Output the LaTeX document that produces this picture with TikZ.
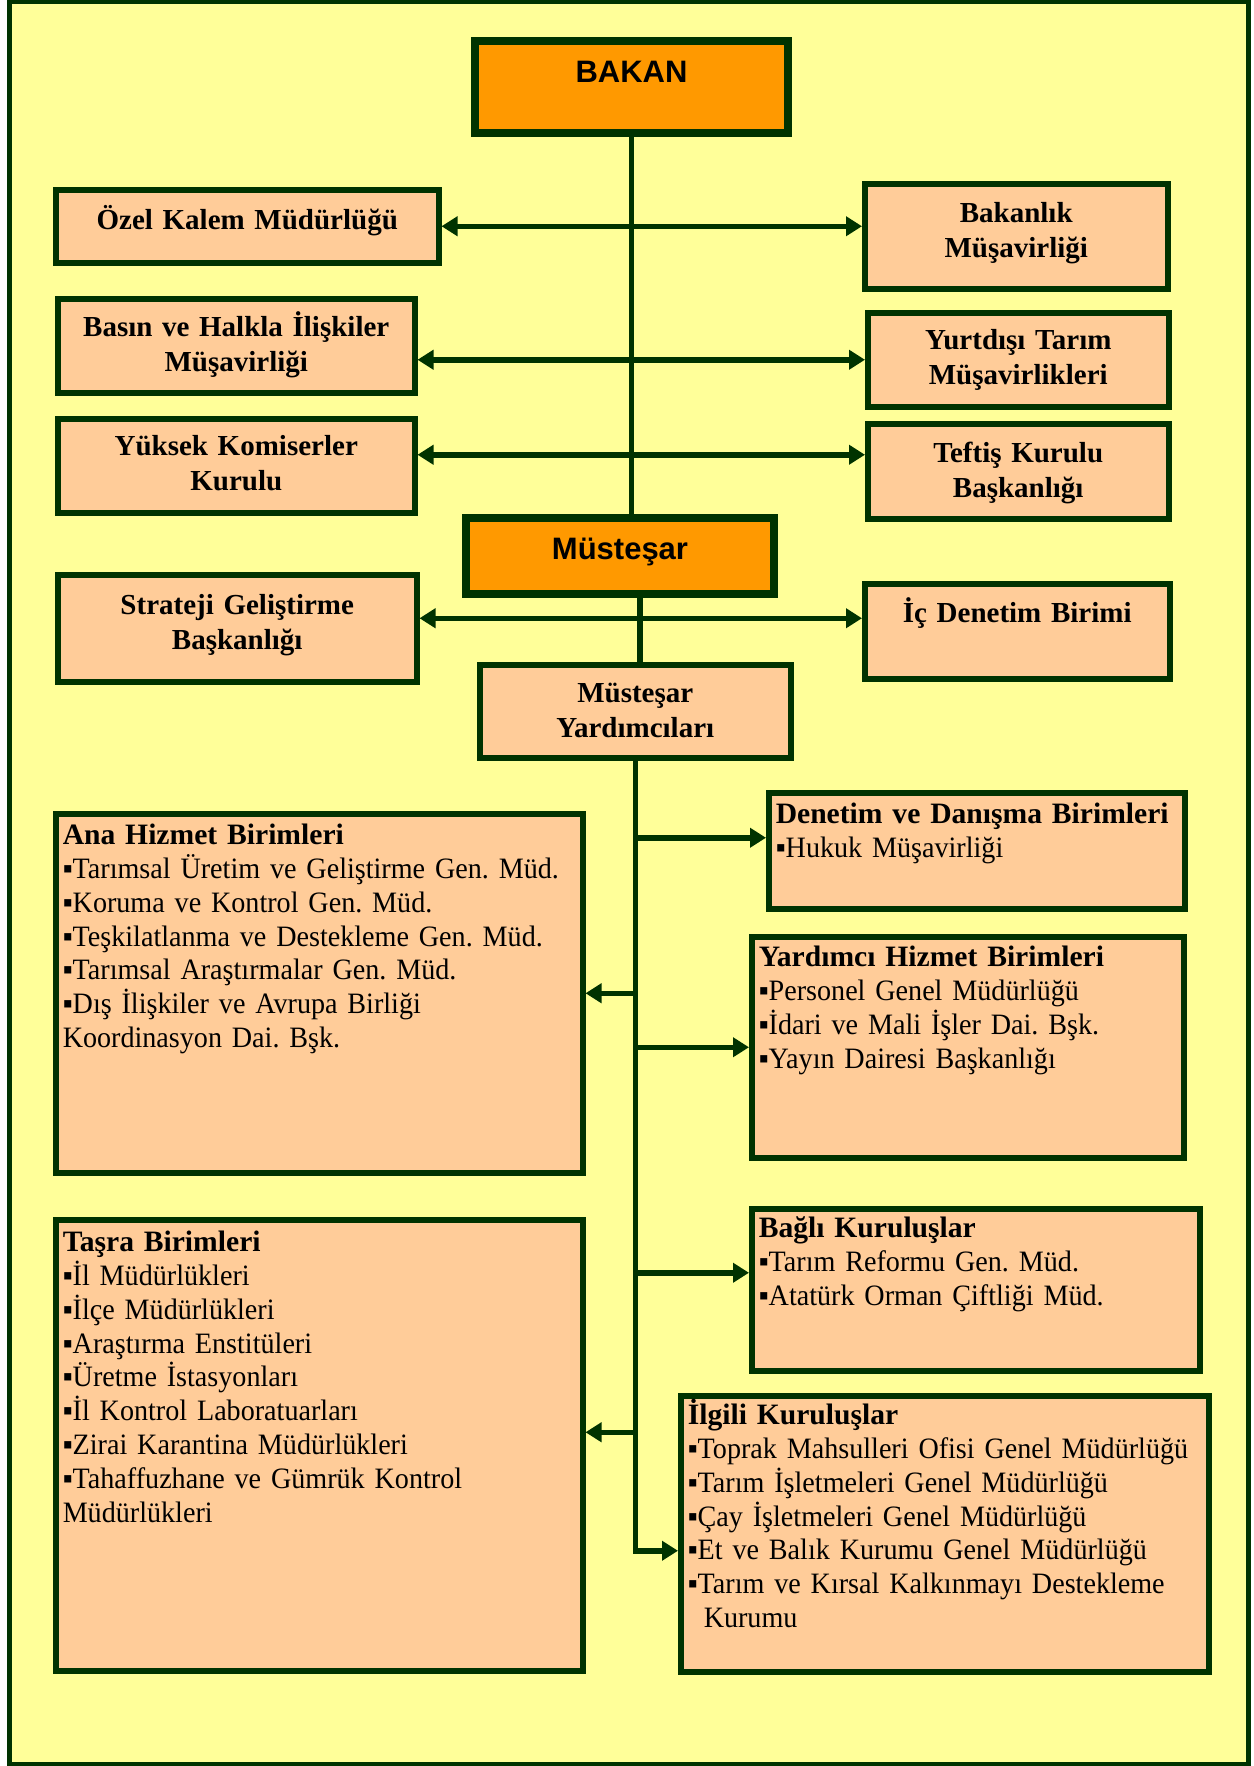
\documentclass[tikz,border=0pt]{standalone}
\usepackage{fontspec}
\setmainfont{Liberation Serif}
\newfontfamily\arialfont{Liberation Sans}
\newfontfamily\listfont{Liberation Serif}[FakeStretch=0.95]
\usetikzlibrary{arrows.meta}
\frenchspacing

\definecolor{sari}{HTML}{FFFF99}
\definecolor{seftali}{HTML}{FFCC99}
\definecolor{turuncu}{HTML}{FF9900}
\definecolor{koyuyesil}{HTML}{003300}

\newcommand{\baslik}[1]{{\rmfamily\bfseries #1}}

\begin{document}
\begin{tikzpicture}[x=0.5pt, y=-0.5pt,
	birim/.style={draw=koyuyesil, line width=2.75pt, fill=seftali, anchor=north west, inner sep=0pt, align=center, font=\bfseries\fontsize{14.5}{17.5}\selectfont},
	ust/.style={birim, line width=4pt, fill=turuncu, font=\arialfont\bfseries\fontsize{15.5}{18}\selectfont},
	liste/.style={birim, align=left, inner xsep=3.5pt, font=\listfont\fontsize{14.8}{16.9}\selectfont},
	bag/.style={draw=koyuyesil, line width=2.75pt},
	ok/.style={bag, -{Triangle[length=8pt,width=9.5pt]}},
	ciftok/.style={bag, {Triangle[length=8pt,width=9.5pt]}-{Triangle[length=8pt,width=9.5pt]}}
	]
		\useasboundingbox (0,0) rectangle (1253,1766);
		%draw frame
		\draw[line width=2.5pt, draw=koyuyesil, fill=sari] (9,2) rectangle (1248,1764);
		%draw top boxes
		\node[ust, text width=156.5pt, text height=21pt, text depth=25pt] (bakan) at (471,37) {BAKAN};
		\node[birim, text width=191.5pt, text height=20pt, text depth=16.5pt] (ozel) at (53,187) {Özel Kalem Müdürlüğü};
		\node[birim, text width=151.5pt, text height=19.5pt, text depth=33pt] (bakanlik) at (862,181) {Bakanlık\\Müşavirliği};
		\node[birim, text width=178.5pt, text height=19pt, text depth=28pt] (basin) at (55,296) {Basın ve Halkla İlişkiler\\Müşavirliği};
		\node[birim, text width=150.5pt, text height=18.5pt, text depth=28.5pt] (yurtdisi) at (865,310) {Yurtdışı Tarım\\Müşavirlikleri};
		\node[birim, text width=178.5pt, text height=18.5pt, text depth=28.5pt] (yuksek) at (55,416) {Yüksek Komiserler\\Kurulu};
		\node[birim, text width=150.5pt, text height=19.5pt, text depth=28pt] (teftis) at (865,421) {Teftiş Kurulu\\Başkanlığı};
		\node[ust, text width=154pt, text height=20.5pt, text depth=17.5pt] (mustesar) at (462,514) {Müsteşar};
		\node[birim, text width=179.5pt, text height=20pt, text depth=33.5pt] (strateji) at (55,572) {Strateji Geliştirme\\Başkanlığı};
		\node[birim, text width=152.5pt, text height=19.5pt, text depth=28pt] (icdenetim) at (862,581) {İç Denetim Birimi};
		\node[birim, text width=155.5pt, text height=19pt, text depth=27.5pt] (yardimcilar) at (477,662) {Müsteşar\\Yardımcıları};
		%draw unit lists
		\node[liste, text width=201pt, text height=15.5pt, text depth=42.5pt] (denetim) at (766,790) {\baslik{Denetim ve Danışma Birimleri}\\▪Hukuk Müşavirliği};
		\node[liste, text width=256.5pt, text height=15.5pt, text depth=164pt] (ana) at (53,811) {\baslik{Ana Hizmet Birimleri}\\▪Tarımsal Üretim ve Geliştirme Gen. Müd.\\▪Koruma ve Kontrol Gen. Müd.\\▪Teşkilatlanma ve Destekleme Gen. Müd.\\▪Tarımsal Araştırmalar Gen. Müd.\\▪Dış İlişkiler ve Avrupa Birliği\\Koordinasyon Dai. Bşk.};
		\node[liste, text width=209pt, text height=15pt, text depth=95.5pt] (yardimci) at (749,934) {\baslik{Yardımcı Hizmet Birimleri}\\▪Personel Genel Müdürlüğü\\▪İdari ve Mali İşler Dai. Bşk.\\▪Yayın Dairesi Başkanlığı};
		\node[liste, text width=217pt, text height=14.5pt, text depth=66.5pt] (bagli) at (749,1206) {\baslik{Bağlı Kuruluşlar}\\▪Tarım Reformu Gen. Müd.\\▪Atatürk Orman Çiftliği Müd.};
		\node[liste, text width=256.5pt, text height=16pt, text depth=209.5pt] (tasra) at (53,1217) {\baslik{Taşra Birimleri}\\▪İl Müdürlükleri\\▪İlçe Müdürlükleri\\▪Araştırma Enstitüleri\\▪Üretme İstasyonları\\▪İl Kontrol Laboratuarları\\▪Zirai Karantina Müdürlükleri\\▪Tahaffuzhane ve Gümrük Kontrol\\Müdürlükleri};
		\node[liste, text width=257pt, text height=14.5pt, text depth=123.5pt] (ilgili) at (678,1393) {\baslik{İlgili Kuruluşlar}\\▪Toprak Mahsulleri Ofisi Genel Müdürlüğü\\▪Tarım İşletmeleri Genel Müdürlüğü\\▪Çay İşletmeleri Genel Müdürlüğü\\▪Et ve Balık Kurumu Genel Müdürlüğü\\▪Tarım ve Kırsal Kalkınmayı Destekleme\\\hspace*{8pt}Kurumu};
		%draw vertical lines
		\draw[bag] (bakan) -- (bakan |- mustesar.north);
		\draw[bag] ([xshift=10pt]mustesar.south) -- ([xshift=10pt]mustesar.south |- yardimcilar.north);
		%draw horizontal arrows
		\draw[ciftok] (ozel.east) -- (ozel.east -| bakanlik.west);
		\draw[ciftok] (yurtdisi.west -| basin.east) -- (yurtdisi.west);
		\draw[ciftok] ([yshift=5.5pt]yuksek.east) -- ([yshift=5.5pt]yuksek.east -| teftis.west);
		\draw[ciftok] ([yshift=5pt]strateji.east) -- ([yshift=5pt]strateji.east -| icdenetim.west);
		%draw spine and branches
		\draw[ok] (yardimcilar.south) |- ([yshift=-8.5pt]ilgili.west);
		\draw[ok] ([yshift=6.5pt]denetim.west -| yardimcilar.south) -- ([yshift=6.5pt]denetim.west);
		\draw[ok] (ana.east -| yardimcilar.south) -- (ana.east);
		\draw[ok] (yardimci.west -| yardimcilar.south) -- (yardimci.west);
		\draw[ok] ([yshift=8.5pt]bagli.west -| yardimcilar.south) -- ([yshift=8.5pt]bagli.west);
		\draw[ok] ([yshift=6.5pt]tasra.east -| yardimcilar.south) -- ([yshift=6.5pt]tasra.east);
\end{tikzpicture}
\end{document}
